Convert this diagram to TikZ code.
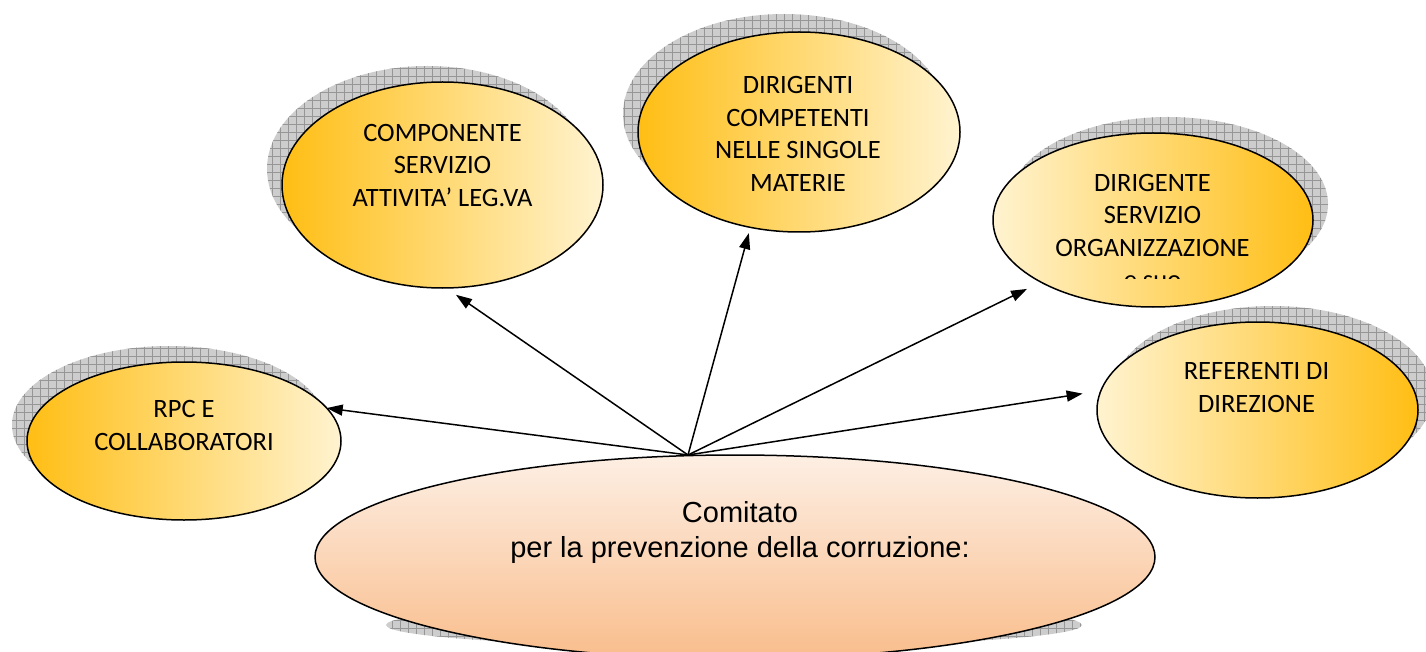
\documentclass[tikz,border=0pt]{standalone}
\usepackage{fontspec}
\newfontfamily\calib{Carlito}
\newfontfamily\arialf{Liberation Sans}
\usetikzlibrary{shapes.geometric,arrows.meta,patterns.meta}
\definecolor{goldD}{RGB}{255,190,20}
\definecolor{goldL}{RGB}{255,243,208}
\definecolor{peachT}{RGB}{253,239,228}
\definecolor{peachB}{RGB}{249,189,140}
\definecolor{shadowG}{RGB}{205,205,205}
\definecolor{gridG}{RGB}{150,150,150}
\tikzset{
  bubble/.style={ellipse, draw=black, line width=1.5pt, inner sep=0pt, outer sep=0pt},
  goldlr/.style={left color=goldD, right color=goldL},
  goldrl/.style={left color=goldL, right color=goldD},
  capstext/.style={font=\calib\fontsize{26.5}{32.4}\selectfont, align=center, inner sep=0pt, text=black},
  comtext/.style={font=\arialf\fontsize{29}{35}\selectfont, align=center, inner sep=0pt, text=black},
  shadowfill/.style={fill=shadowG, postaction={pattern={Hatch[distance=8pt, angle=0, line width=0.5pt]}, pattern color=gridG}},
  arr/.style={line width=1.5pt, -{Triangle[length=16pt, width=11pt]}},
}
\begin{document}
\begin{tikzpicture}[x=1pt,y=-1pt]
\clip (0,0) rectangle (1426,652);
% shadows
\fill[shadowfill] (169,425) ellipse [x radius=157, y radius=79];
\fill[shadowfill] (427.5,169) ellipse [x radius=160.5, y radius=103];
\fill[shadowfill] (784,114) ellipse [x radius=161, y radius=100];
\fill[shadowfill] (1168,204) ellipse [x radius=160, y radius=87];
\fill[shadowfill] (1272.5,394) ellipse [x radius=160.5, y radius=88];
\fill[shadowfill] (734,625) ellipse [x radius=348, y radius=22];
% ellipses
\node[bubble, goldlr, minimum width=314pt, minimum height=158pt] (rpc) at (184,441) {};
\node[bubble, goldlr, minimum width=321pt, minimum height=206pt] (comp) at (442.5,185) {};
\node[bubble, goldlr, minimum width=322pt, minimum height=200pt] (dir) at (799,132) {};
\node[bubble, goldrl, minimum width=320pt, minimum height=174pt] (dirserv) at (1153,220) {};
\node[bubble, goldrl, minimum width=321pt, minimum height=176pt] (ref) at (1257.5,410) {};
\node[bubble, top color=peachT, bottom color=peachB, minimum width=840pt, minimum height=204pt] (com) at (735,557) {};
% texts
\node[capstext] (trpc) at (184,425.5) {RPC E\\COLLABORATORI};
\node[capstext] (tcomp) at (442.5,165.5) {COMPONENTE\\SERVIZIO\\ATTIVITA’ LEG.VA};
\node[capstext] (tdir) at (798,134) {DIRIGENTI\\COMPETENTI\\NELLE SINGOLE\\MATERIE};
\begin{scope}
\clip (990,100) rectangle (1320,278);
\node[capstext] (tdirserv) at (1152.5,231.6) {DIRIGENTE\\SERVIZIO\\ORGANIZZAZIONE\\e suo};
\end{scope}
\node[capstext] (tref) at (1256.5,387.5) {REFERENTI DI\\DIREZIONE};
\node[comtext] (tcom) at (740,532) {Comitato\\per la prevenzione della corruzione:};
% connectors
\coordinate (hub) at (688,455);
\draw[arr] (hub) -- (rpc.13);
\draw[arr, shorten >=12pt] (hub) -- (comp.-88);
\draw[arr, shorten >=6pt] (hub) -- (dir.-117.4);
\draw[arr, shorten >=15.5pt] (hub) -- (dirserv.-151);
\draw[arr, shorten >=18.5pt] (hub) -- (ref.173.5);
\end{tikzpicture}
\end{document}
